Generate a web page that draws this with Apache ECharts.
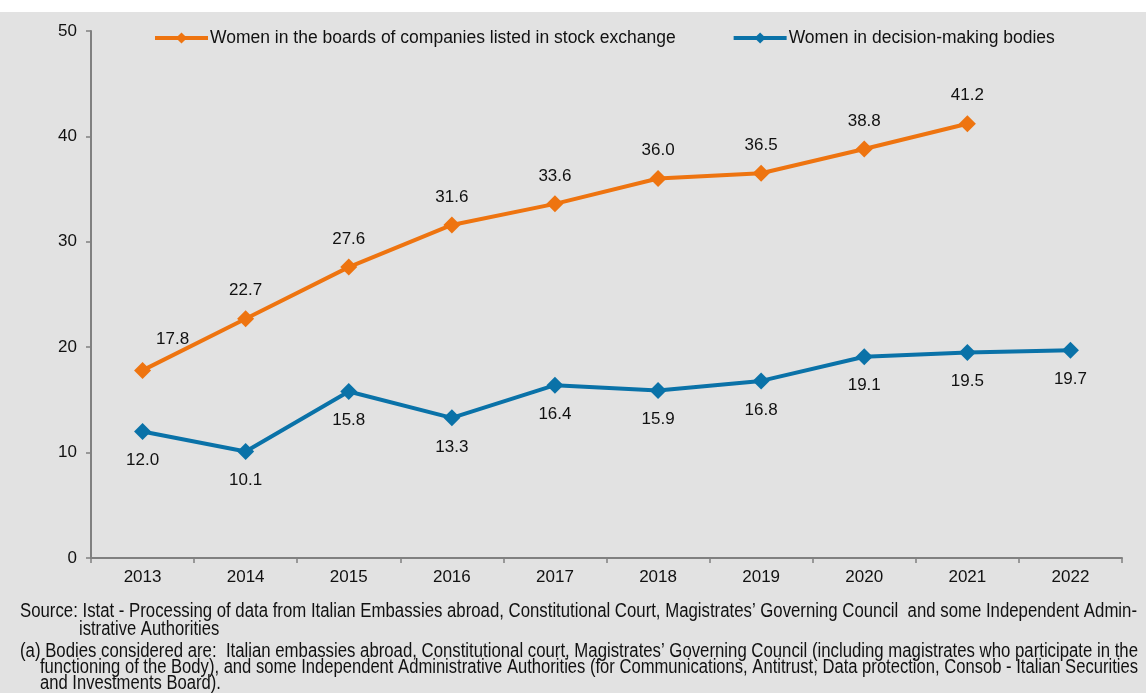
<!DOCTYPE html>
<html><head><meta charset="utf-8">
<script src="https://cdn.jsdelivr.net/npm/echarts@6/dist/echarts.min.js"></script>
<style>html,body{margin:0;padding:0;background:#fff}#c{width:1146px;height:693px}</style>
</head><body><div id="c"></div>
<script>
const years = ['2013','2014','2015','2016','2017','2018','2019','2020','2021','2022'];
const boards = [17.8, 22.7, 27.6, 31.6, 33.6, 36.0, 36.5, 38.8, 41.2, null];
const bodies = [12.0, 10.1, 15.8, 13.3, 16.4, 15.9, 16.8, 19.1, 19.5, 19.7];
const yTicks = [0, 10, 20, 30, 40, 50];
const seriesNames = ['Women in the boards of companies listed in stock exchange', 'Women in decision-making bodies'];
const footLines = [
  'Source: Istat - Processing of data from Italian Embassies abroad, Constitutional Court, Magistrates\u2019 Governing Council  and some Independent Admin-',
  'istrative Authorities',
  '(a) Bodies considered are:  Italian embassies abroad, Constitutional court, Magistrates\u2019 Governing Council (including magistrates who participate in the',
  'functioning of the Body), and some Independent Administrative Authorities (for Communications, Antitrust, Data protection, Consob - Italian Securities',
  'and Investments Board).'
];
const footX = [20, 79, 20, 40, 40];
const footY = [611, 629, 651, 667, 683];
const footRight = [1137, null, 1138, 1138, null];

const FOOT_SIZE = 20;
const cv = document.createElement('canvas').getContext('2d');
cv.font = FOOT_SIZE + 'px "Liberation Sans"';
const scales = footLines.map((t, i) => footRight[i] ? (footRight[i] - footX[i]) / cv.measureText(t).width : null);
const defScale = scales[3];

const ORANGE = '#EE7410', BLUE = '#0A72A8';
const chart = echarts.init(document.getElementById('c'));
const labelFont = {fontFamily: 'Liberation Sans, Arial, sans-serif', fontSize: 17, color: '#111'};
chart.setOption({
  backgroundColor: '#E2E2E2',
  animation: false,
  textStyle: {fontFamily: 'Liberation Sans, Arial, sans-serif'},
  graphic: [
    {type: 'rect', left: 0, top: 0, shape: {width: 1146, height: 12}, style: {fill: '#fff'}, z: 100},
    ...footLines.map((t, i) => ({
      type: 'text', x: footX[i], y: footY[i], scaleX: scales[i] || defScale, scaleY: 1,
      style: {text: t, fill: '#111', font: FOOT_SIZE + 'px "Liberation Sans"', fontSize: FOOT_SIZE, fontFamily: 'Liberation Sans', verticalAlign: 'middle'}
    }))
  ],
  legend: {
    left: 148, top: 24, itemGap: 56, itemWidth: 53, itemHeight: 14,
    lineStyle: {width: 4},
    textStyle: {fontSize: 17.5, color: '#111', padding: [0,0,0,-3]},
    data: seriesNames
  },
  grid: {left: 91, right: 24, top: 31, bottom: 135},
  xAxis: {
    type: 'category', data: years, boundaryGap: true,
    axisLine: {lineStyle: {color: '#808080', width: 2}},
    axisTick: {show: true, length: 5, lineStyle: {color: '#808080', width: 1.5}},
    axisLabel: {fontSize: 17, color: '#111', margin: 11}
  },
  yAxis: {
    type: 'value', min: 0, max: 50, interval: 10,
    splitLine: {show: false},
    axisLine: {show: true, lineStyle: {color: '#808080', width: 2}},
    axisTick: {show: true, length: 5, lineStyle: {color: '#808080', width: 1.5}},
    axisLabel: {fontSize: 17, color: '#111', margin: 14}
  },
  series: [
    {
      name: seriesNames[0], type: 'line', data: boards.map((v, i) => i === 0 ? {value: v, label: {offset: [30, -3]}} : v),
      color: ORANGE, lineStyle: {width: 4, color: ORANGE}, itemStyle: {color: ORANGE},
      symbol: 'diamond', symbolSize: 17, showAllSymbol: true,
      label: {show: true, position: 'top', distance: 11, formatter: p => p.value.toFixed(1), ...labelFont}
    },
    {
      name: seriesNames[1], type: 'line', data: bodies,
      color: BLUE, lineStyle: {width: 4, color: BLUE}, itemStyle: {color: BLUE},
      symbol: 'diamond', symbolSize: 17, showAllSymbol: true,
      label: {show: true, position: 'bottom', distance: 12, formatter: p => p.value.toFixed(1), ...labelFont}
    }
  ]
});
</script></body></html>
